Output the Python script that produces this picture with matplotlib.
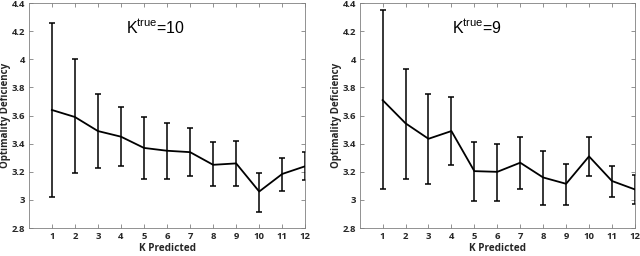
import numpy as np
import matplotlib
matplotlib.use("Agg")
import matplotlib.pyplot as plt

k_pred = np.arange(1, 13)

# K_true = 10
mean_10 = [3.64, 3.59, 3.49, 3.45, 3.37, 3.35, 3.34, 3.25, 3.26, 3.06, 3.185, 3.24]
upper_10 = [4.26, 4.00, 3.75, 3.66, 3.59, 3.55, 3.51, 3.41, 3.42, 3.19, 3.30, 3.34]
lower_10 = [3.02, 3.19, 3.225, 3.24, 3.15, 3.15, 3.17, 3.10, 3.10, 2.915, 3.065, 3.14]

# K_true = 9
mean_9 = [3.71, 3.545, 3.435, 3.49, 3.205, 3.20, 3.265, 3.16, 3.115, 3.31, 3.135, 3.075]
upper_9 = [4.35, 3.93, 3.75, 3.735, 3.415, 3.40, 3.45, 3.35, 3.255, 3.45, 3.245, 3.18]
lower_9 = [3.08, 3.15, 3.11, 3.25, 2.99, 2.99, 3.08, 2.965, 2.965, 3.17, 3.02, 2.97]

y_ticks = [2.8, 3.0, 3.2, 3.4, 3.6, 3.8, 4.0, 4.2, 4.4]
y_tick_labels = ["2.8", "3", "3.2", "3.4", "3.6", "3.8", "4", "4.2", "4.4"]

panels = [
    (mean_10, upper_10, lower_10, "10", 5.5),
    (mean_9, upper_9, lower_9, "9", 5.1),
]
positions = [[0.045, 0.109, 0.432, 0.879], [0.562, 0.109, 0.430, 0.879]]

fig = plt.figure(figsize=(6.4, 2.56), dpi=100)
tick_font = dict(family="Open Sans", weight="bold", size=6.8, color="#262626")

for (mean, upper, lower, ktrue, tx), pos in zip(panels, positions):
    ax = fig.add_axes(pos)
    mean = np.array(mean)
    err = [mean - np.array(lower), np.array(upper) - mean]
    ax.errorbar(k_pred, mean, yerr=err, color="black", lw=1.3,
                elinewidth=1.1, capsize=2, capthick=1.1)
    ax.set_xlim(0, 12)
    ax.set_ylim(2.8, 4.4)
    ax.set_xticks(k_pred)
    ax.set_xticklabels([str(k) for k in k_pred], **tick_font)
    ax.set_yticks(y_ticks)
    ax.set_yticklabels(y_tick_labels, **tick_font)
    ax.tick_params(direction="in", top=True, right=True, length=3,
                   width=0.6, color="#808080", pad=2.5)
    for s in ax.spines.values():
        s.set_color("#808080")
        s.set_linewidth(0.6)
    ax.set_xlabel("K Predicted", family="Open Sans", weight="bold",
                  size=7.2, color="#262626", labelpad=2)
    ax.set_ylabel("Optimality Deficiency", family="Open Sans", weight="bold",
                  size=7, color="#262626", labelpad=0.5)
    ax.text(tx, 4.23, r"K$^{\mathregular{true}}$=" + ktrue, ha="center",
            va="center", family="Liberation Sans", size=11.5)

fig.savefig("out.png", dpi=100)
